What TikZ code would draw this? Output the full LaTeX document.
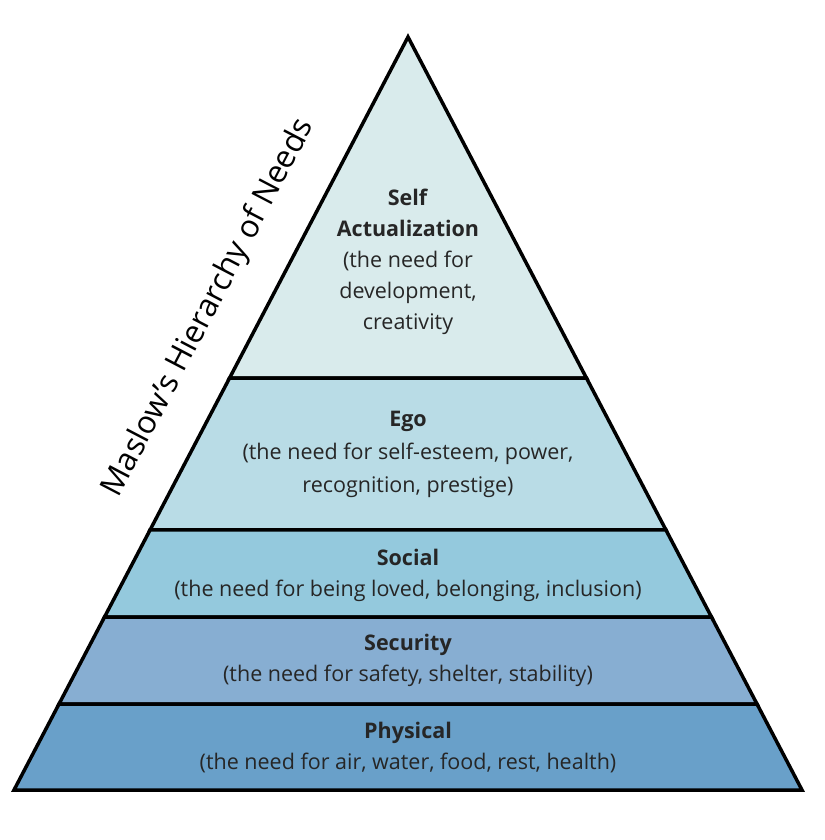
\documentclass[tikz,border=0pt]{standalone}
\usepackage{fontspec}
\setmainfont{Open Sans}
\usetikzlibrary{calc}
\definecolor{selfcol}{HTML}{D9EBEC}
\definecolor{egocol}{HTML}{B9DCE6}
\definecolor{socialcol}{HTML}{94C9DD}
\definecolor{securecol}{HTML}{87AED2}
\definecolor{physcol}{HTML}{69A0C9}
\begin{document}
\begin{tikzpicture}[x=1pt,y=-1pt,
    layer/.style={draw=black,line width=3.5pt,line join=miter},
    need/.style={align=center,text=black!85,font=\fontsize{21.5}{31}\selectfont}]
        \useasboundingbox (0,0) rectangle (824,840);

        \coordinate (apex) at (408,37);
        \coordinate (bl) at (14,790);
        \coordinate (br) at (802,790);
        \coordinate (l1) at ($(apex)!0.4529!(bl)$);
        \coordinate (r1) at ($(apex)!0.4529!(br)$);
        \coordinate (l2) at ($(apex)!0.6547!(bl)$);
        \coordinate (r2) at ($(apex)!0.6547!(br)$);
        \coordinate (l3) at ($(apex)!0.7703!(bl)$);
        \coordinate (r3) at ($(apex)!0.7703!(br)$);
        \coordinate (l4) at ($(apex)!0.8858!(bl)$);
        \coordinate (r4) at ($(apex)!0.8858!(br)$);

        \filldraw[layer,fill=selfcol]   (apex) -- (r1) -- (l1) -- cycle;
        \filldraw[layer,fill=egocol]    (l1) -- (r1) -- (r2) -- (l2) -- cycle;
        \filldraw[layer,fill=socialcol] (l2) -- (r2) -- (r3) -- (l3) -- cycle;
        \filldraw[layer,fill=securecol] (l3) -- (r3) -- (r4) -- (l4) -- cycle;
        \filldraw[layer,fill=physcol]   (l4) -- (r4) -- (br) -- (bl) -- cycle;

        \node[need] (self) at (408,262) {\textbf{Self}\\\textbf{Actualization}\\(the need for\\development,\\creativity};
        \node[need,font=\fontsize{21.5}{33}\selectfont] (ego) at (408,454) {\textbf{Ego}\\(the need for self-esteem, power,\\recognition, prestige)};
        \node[need] (social) at (408,575) {\textbf{Social}\\(the need for being loved, belonging, inclusion)};
        \node[need] (security) at (408,660) {\textbf{Security}\\(the need for safety, shelter, stability)};
        \node[need] (physical) at (408,748) {\textbf{Physical}\\(the need for air, water, food, rest, health)};

        \node[rotate=62.4,font=\fontsize{31.5}{36}\selectfont] (title) at (209,308) {Maslow’s Hierarchy of Needs};
    \end{tikzpicture}
\end{document}
